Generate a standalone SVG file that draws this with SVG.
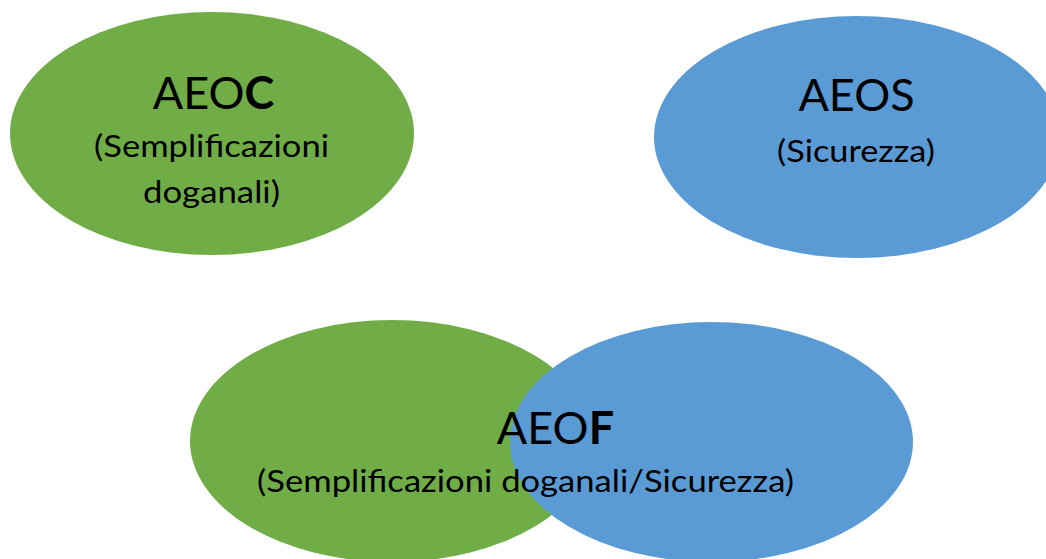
<svg xmlns="http://www.w3.org/2000/svg" width="1046" height="559" viewBox="0 0 1046 559">
<style>
.g{fill:#70AD47}
.b{fill:#5B9BD5}
text{font-family:Lato,"Liberation Sans",sans-serif;fill:#000}
.t{font-size:45px;text-anchor:middle}
.s{font-size:31px}
.bd{font-weight:bold}
</style>
<rect width="1046" height="559" fill="#fff"/>
<g id="aeoc">
<ellipse class="g" cx="212" cy="133.5" rx="202" ry="121.5"/>
<text class="t" x="213.5" y="109">AEO<tspan class="bd">C</tspan></text>
<text class="s" x="94" y="157" textLength="235" lengthAdjust="spacingAndGlyphs">(Semplificazioni</text>
<text class="s" x="143" y="203" textLength="137" lengthAdjust="spacingAndGlyphs">doganali)</text>
</g>
<g id="aeos">
<ellipse class="b" cx="857" cy="137" rx="203" ry="121"/>
<text class="t" x="856.5" y="111">AEOS</text>
<text class="s" x="777" y="162" textLength="158" lengthAdjust="spacingAndGlyphs">(Sicurezza)</text>
</g>
<g id="aeof">
<ellipse class="g" cx="392" cy="441" rx="202" ry="121"/>
<ellipse class="b" cx="711.5" cy="442" rx="201.5" ry="120"/>
<text class="t" x="555.5" y="444">AEO<tspan class="bd">F</tspan></text>
<text class="s" x="257" y="492" textLength="537" lengthAdjust="spacingAndGlyphs">(Semplificazioni doganali/Sicurezza)</text>
</g>
<g id="connectors"/>
</svg>
